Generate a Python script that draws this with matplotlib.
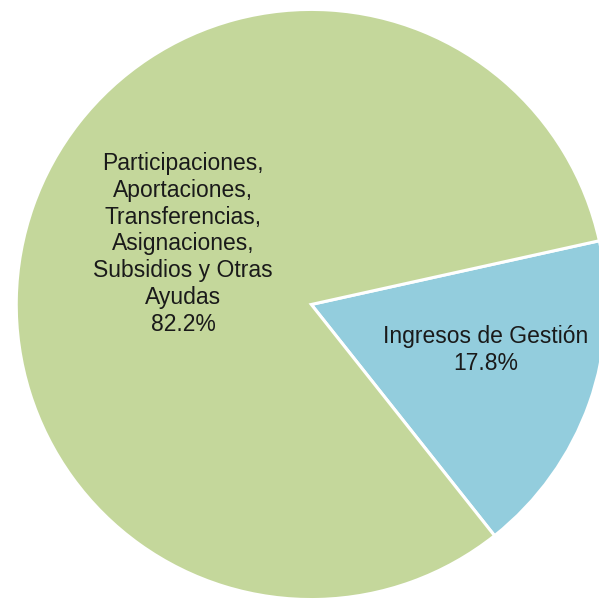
import numpy as np
import matplotlib
matplotlib.use("Agg")
import matplotlib.pyplot as plt

labels = ["Ingresos de Gestión",
          "Participaciones,\nAportaciones,\nTransferencias,\nAsignaciones,\nSubsidios y Otras\nAyudas"]
values = [17.8, 82.2]
colors = ["#93cddd", "#c4d79b"]

plt.rcParams['font.family'] = ['Liberation Sans', 'DejaVu Sans']

fig = plt.figure(figsize=(5.99, 6.01), dpi=100)
ax = fig.add_axes([0, 0, 1, 1])

wedges, _ = ax.pie(values, colors=colors, startangle=-51.6, counterclock=True,
                   radius=1.0, center=(0, 0),
                   wedgeprops=dict(edgecolor="white", linewidth=2.2))

ax.set_xlim(-1.055, 0.975)
ax.set_ylim(-1.005, 1.032)
ax.set_aspect("equal")
ax.axis("off")

# label positions (polar, relative to the pie centre)
pos = [(0.61, -14.5), (0.48, 154.7)]
for lab, v, (r, a) in zip(labels, values, pos):
    x = r * np.cos(np.radians(a))
    y = r * np.sin(np.radians(a))
    ax.text(x, y, f"{lab}\n{v:.1f}%", ha="center", va="center",
            fontsize=16.5, color="#1a1a1a", linespacing=1.22)

fig.savefig("out.png", dpi=100)
